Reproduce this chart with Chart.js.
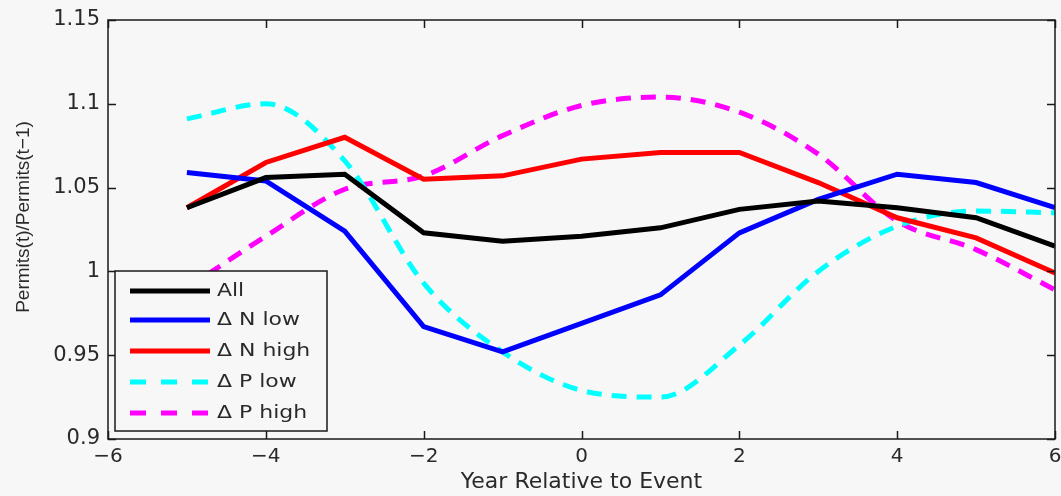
<!DOCTYPE html>
<html>
<head>
<meta charset="utf-8">
<script src="https://cdn.jsdelivr.net/npm/chart.js@4"></script>
<style>
  html, body { margin: 0; padding: 0; background: #ffffff; }
  #wrap { position: absolute; left: 0; top: 0; width: 1061px; height: 496px; background: #f7f7f7; }
</style>
</head>
<body>
<div id="wrap"><canvas id="chart" width="1061" height="496"></canvas></div>
<script>
// --- data ---
const years = [-5, -4, -3, -2, -1, 0, 1, 2, 3, 4, 5, 6];
const allSeries   = [1.038, 1.056, 1.058, 1.023, 1.018, 1.021, 1.026, 1.037, 1.042, 1.038, 1.032, 1.015];
const nLowSeries  = [1.059, 1.054, 1.024, 0.967, 0.952, 0.969, 0.986, 1.023, 1.043, 1.058, 1.053, 1.038];
const nHighSeries = [1.038, 1.065, 1.080, 1.055, 1.057, 1.067, 1.071, 1.071, 1.053, 1.032, 1.020, 0.999];
const pLowSeries  = [1.091, 1.100, 1.066, 0.993, 0.952, 0.929, 0.925, 0.956, 1.000, 1.027, 1.036, 1.035];
const pHighSeries = [0.990, 1.021, 1.049, 1.057, 1.081, 1.099, 1.104, 1.095, 1.070, 1.030, 1.013, 0.989];
const xTicks = [-6, -4, -2, 0, 2, 4, 6];
const yTicks = [0.9, 0.95, 1, 1.05, 1.1, 1.15];
const yTitle = 'Permits(t)/Permits(t\u22121)';

const textColor = '#2a2a2a';
const sansWide = '"DejaVu Sans", sans-serif';
const sansNarrow = '"Liberation Sans", Arial, sans-serif';

function pts(values) {
    return years.map((x, i) => ({ x: x, y: values[i] }));
}

function line(label, values, color, dashed) {
    return {
        label: label,
        data: pts(values),
        borderColor: color,
        backgroundColor: color,
        borderWidth: 5,
        borderDash: dashed ? [15, 10] : [],
        pointRadius: 0,
        cubicInterpolationMode: dashed ? 'monotone' : 'default',
        tension: 0,
        fill: false
    };
}

// frame + inward ticks like the original plot, boxed legend inside the axes, y title
const framePlugin = {
    id: 'frame',
    afterDatasetsDraw(chart) {
        const { ctx, chartArea: a, scales } = chart;
        ctx.save();
        ctx.strokeStyle = '#1a1a1a';
        ctx.lineWidth = 1.5;
        ctx.strokeRect(a.left, a.top, a.right - a.left, a.bottom - a.top);
        ctx.beginPath();
        xTicks.forEach(v => {
            const px = Math.round(scales.x.getPixelForValue(v)) + 0.5;
            ctx.moveTo(px, a.bottom); ctx.lineTo(px, a.bottom - 8);
            ctx.moveTo(px, a.top); ctx.lineTo(px, a.top + 8);
        });
        yTicks.forEach(v => {
            const py = Math.round(scales.y.getPixelForValue(v)) + 0.5;
            ctx.moveTo(a.left, py); ctx.lineTo(a.left + 8, py);
            ctx.moveTo(a.right, py); ctx.lineTo(a.right - 8, py);
        });
        ctx.stroke();

        // legend box
        const bx = a.left + 7, by = a.top + 251, bw = 212, bh = 160;
        ctx.fillStyle = '#f7f7f7';
        ctx.fillRect(bx, by, bw, bh);
        ctx.strokeStyle = '#1a1a1a';
        ctx.lineWidth = 1.5;
        ctx.strokeRect(bx, by, bw, bh);
        const rowY = [20, 49, 80, 111, 142];
        ctx.font = '18px ' + sansWide;
        ctx.textBaseline = 'middle';
        chart.data.datasets.forEach((ds, i) => {
            const y = by + rowY[i];
            ctx.beginPath();
            ctx.strokeStyle = ds.borderColor;
            ctx.lineWidth = 5;
            ctx.setLineDash(ds.borderDash.length ? [16, 15] : []);
            ctx.moveTo(bx + 15, y);
            ctx.lineTo(bx + 95, y);
            ctx.stroke();
            ctx.setLineDash([]);
            ctx.fillStyle = textColor;
            ctx.save();
            ctx.translate(bx + 102, y);
            ctx.scale(1.22, 1);
            ctx.fillText(ds.label, 0, 0);
            ctx.restore();
        });

        // y axis title, placed as in the original
        ctx.save();
        ctx.translate(24, 217);
        ctx.rotate(-Math.PI / 2);
        ctx.font = '19px ' + sansNarrow;
        ctx.fillStyle = textColor;
        ctx.textAlign = 'center';
        ctx.textBaseline = 'middle';
        ctx.fillText(yTitle, 0, 0);
        ctx.restore();

        ctx.restore();
    }
};

new Chart(document.getElementById('chart'), {
    type: 'line',
    data: {
        datasets: [
            line('All', allSeries, '#000000', false),
            line('\u0394 N low', nLowSeries, '#0000ff', false),
            line('\u0394 N high', nHighSeries, '#ff0000', false),
            line('\u0394 P low', pLowSeries, '#00ffff', true),
            line('\u0394 P high', pHighSeries, '#ff00ff', true)
        ]
    },
    options: {
        responsive: false,
        animation: false,
        layout: { padding: { left: 0, right: 6, top: 20, bottom: 0 } },
        plugins: {
            legend: { display: false },
            tooltip: { enabled: false }
        },
        scales: {
            x: {
                type: 'linear',
                min: -6,
                max: 6,
                afterBuildTicks: s => { s.ticks = xTicks.map(v => ({ value: v })); },
                afterFit: s => { s.height = 57; s.paddingLeft = 0; s.paddingRight = 0; },
                grid: { display: false, drawTicks: false },
                border: { display: false },
                ticks: {
                    padding: 6,
                    color: textColor,
                    font: { family: sansWide, size: 20 },
                    callback: v => String(v).replace('-', '\u2212')
                },
                title: {
                    display: true,
                    text: 'Year Relative to Event',
                    color: textColor,
                    font: { family: sansWide, size: 22 },
                    padding: { top: 0, bottom: 1 }
                }
            },
            y: {
                min: 0.9,
                max: 1.15,
                afterBuildTicks: s => { s.ticks = yTicks.map(v => ({ value: v })); },
                afterFit: s => { s.width = 108; s.paddingTop = 0; s.paddingBottom = 0; },
                grid: { display: false, drawTicks: false },
                border: { display: false },
                ticks: {
                    padding: 8,
                    color: textColor,
                    font: { family: sansWide, size: 21 },
                    callback: v => String(+v.toFixed(2))
                },
                title: { display: false }
            }
        }
    },
    plugins: [framePlugin]
});
</script>
</body>
</html>
